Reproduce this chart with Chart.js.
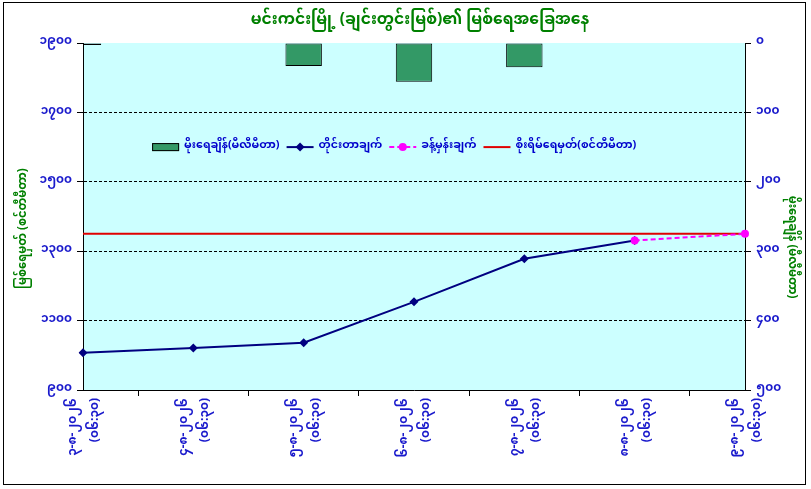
<!DOCTYPE html>
<html><head><meta charset="utf-8">
<script src="https://cdn.jsdelivr.net/npm/chart.js@4.4.1/dist/chart.umd.min.js"></script>
<style>html,body{margin:0;padding:0;background:#fff}#wrap{width:811px;height:489px;position:relative}</style>
</head><body><div id="wrap"><canvas id="c" width="811" height="489"></canvas></div>
<script>
const FONT = "'Noto Sans Myanmar','Padauk','Myanmar Text','Noto Sans','DejaVu Sans',sans-serif";
const titleText = 'မင်းကင်းမြို့ (ချင်းတွင်းမြစ်)၏ မြစ်ရေအခြေအနေ';
const leftAxisTitle = 'မြစ်ရေမှတ် (စင်တီမီတာ)';
const rightAxisTitle = 'မိုးရေချိန် (မီလီမီတာ)';
const dates = ['၃-၈-၂၀၂၆','၄-၈-၂၀၂၆','၅-၈-၂၀၂၆','၆-၈-၂၀၂၆','၇-၈-၂၀၂၆','၈-၈-၂၀၂၆','၉-၈-၂၀၂၆'];
const times = ['(၀၆:၃၀)','(၀၆:၃၀)','(၀၆:၃၀)','(၀၆:၃၀)','(၀၆:၃၀)','(၀၆:၃၀)','(၀၆:၃၀)'];
const rainfall = [3, 0, 33, 56, 35, 0, 0];
const observed = [1007, 1021, 1036, 1154, 1278, 1331, null];
const forecast = [null, null, null, null, null, 1331, 1350];
const dangerLevel = [1350, 1350, 1350, 1350, 1350, 1350, 1350];
const seriesNames = ['မိုးရေချိန်(မီလီမီတာ)','တိုင်းတာချက်','ခန့်မှန်းချက်','စိုးရိမ်ရေမှတ်(စင်တီမီတာ)'];
const leftTickValues = [900, 1100, 1300, 1500, 1700, 1900];
const leftTickLabels = ['၉၀၀','၁၁၀၀','၁၃၀၀','၁၅၀၀','၁၇၀၀','၁၉၀၀'];
const rightTickValues = [0, 100, 200, 300, 400, 500];
const rightTickLabels = ['၀','၁၀၀','၂၀၀','၃၀၀','၄၀၀','၅၀၀'];

const labels = dates.map((d, i) => [d, times[i]]);
const TICK = '#1a1acc';
const GREEN = '#008000';

function rotText(ctx, text, x, y, ang) {
  ctx.save();
  ctx.translate(x, y);
  ctx.rotate(ang);
  ctx.textAlign = 'center';
  ctx.textBaseline = 'middle';
  ctx.fillText(text, 0, 0);
  ctx.restore();
}

const decor = {
  id: 'decor',
  beforeDraw(chart) {
    const {ctx, chartArea: a} = chart;
    ctx.save();
    ctx.fillStyle = '#ccffff';
    ctx.fillRect(a.left, a.top, a.right - a.left, a.bottom - a.top);
    ctx.restore();
  },
  afterDraw(chart) {
    const {ctx, chartArea: a} = chart;
    const h = a.bottom - a.top;
    ctx.save();
    ctx.strokeStyle = '#000';
    ctx.lineWidth = 1;
    ctx.strokeRect(3.5, 2.5, 802, 482);
    // title
    ctx.fillStyle = GREEN;
    ctx.font = 'bold 15.5px ' + FONT;
    rotText(ctx, titleText, (a.left + a.right) / 2 + 6, 22, 0);
    // axis titles
    ctx.font = 'bold 11.5px ' + FONT;
    rotText(ctx, leftAxisTitle, 25, a.top + h * 0.535, -Math.PI / 2);
    rotText(ctx, rightAxisTitle, 790, a.top + h * 0.588, Math.PI / 2);
    // legend
    const ds = chart.data.datasets;
    ctx.font = 'bold 11px ' + FONT;
    ctx.textBaseline = 'middle';
    ctx.textAlign = 'left';
    const sym = 27, gapS = 5, gapT = 7;
    let total = 0;
    ds.forEach(d => { total += sym + gapS + ctx.measureText(d.label).width + gapT; });
    total -= gapT;
    let x = a.left + (a.right - a.left) * 0.47 - total / 2;
    const y = a.top + h * 0.3;
    ds.forEach((d, i) => {
      if (d.type === 'bar') {
        ctx.fillStyle = d.backgroundColor;
        ctx.fillRect(x, y - 4, sym, 8);
        ctx.strokeStyle = '#000';
        ctx.lineWidth = 1;
        ctx.strokeRect(x + 0.5, y - 3.5, sym - 1, 7);
      } else {
        ctx.strokeStyle = d.borderColor;
        ctx.lineWidth = d.borderWidth;
        ctx.setLineDash(d.borderDash || []);
        ctx.beginPath(); ctx.moveTo(x, y); ctx.lineTo(x + sym, y); ctx.stroke();
        ctx.setLineDash([]);
        if (d.pointRadius > 0) {
          ctx.fillStyle = d.pointBackgroundColor;
          const cx = x + sym / 2, r = d.pointRadius;
          ctx.beginPath();
          if (d.pointStyle === 'rectRot') {
            ctx.moveTo(cx, y - r); ctx.lineTo(cx + r, y); ctx.lineTo(cx, y + r); ctx.lineTo(cx - r, y);
          } else {
            ctx.arc(cx, y, r, 0, Math.PI * 2);
          }
          ctx.closePath(); ctx.fill();
        }
      }
      x += sym + gapS;
      ctx.fillStyle = '#0000cc';
      ctx.fillText(d.label, x, y);
      x += ctx.measureText(d.label).width + gapT;
    });
    ctx.restore();
  }
};

new Chart(document.getElementById('c'), {
  data: {
    labels,
    datasets: [
      {type: 'bar', label: seriesNames[0], data: rainfall, yAxisID: 'y1', backgroundColor: '#339966',
       borderColor: '#000', borderWidth: 1, borderSkipped: false, barPercentage: 0.33, categoryPercentage: 1, clip: 0, order: 4},
      {type: 'line', label: seriesNames[1], data: observed, yAxisID: 'y', borderColor: '#000080', borderWidth: 2,
       pointStyle: 'rectRot', pointRadius: 4.5, pointBackgroundColor: '#000080', pointBorderColor: '#000080', pointBorderWidth: 0, tension: 0, order: 2},
      {type: 'line', label: seriesNames[2], data: forecast, yAxisID: 'y', borderColor: '#ff00ff', borderWidth: 2, borderDash: [5, 3],
       pointStyle: 'circle', pointRadius: 4, pointBackgroundColor: '#ff00ff', pointBorderColor: '#ff00ff', pointBorderWidth: 0, tension: 0, order: 1},
      {type: 'line', label: seriesNames[3], data: dangerLevel, yAxisID: 'y', borderColor: '#e00000', borderWidth: 2,
       pointRadius: 0, tension: 0, order: 3}
    ]
  },
  options: {
    responsive: false,
    animation: false,
    devicePixelRatio: 1,
    layout: {padding: {left: 0, right: 0, top: 43, bottom: 0}},
    plugins: {
      legend: {display: false},
      tooltip: {enabled: false},
      title: {display: false}
    },
    scales: {
      x: {
        type: 'category', offset: false,
        grid: {drawOnChartArea: false, tickLength: 6, color: '#000', tickColor: '#000'},
        border: {color: '#000', width: 1},
        ticks: {color: TICK, font: {family: FONT, size: 12, weight: 'bold', lineHeight: 1.8}, maxRotation: 90, minRotation: 90,
          autoSkip: false, padding: 2, labelOffset: -8},
        afterFit: s => { s.height = 99; }
      },
      y: {
        position: 'left', min: 900, max: 1900,
        afterBuildTicks: s => { s.ticks = leftTickValues.map(v => ({value: v})); },
        ticks: {color: TICK, font: {family: FONT, size: 12, weight: 'bold'}, padding: 5,
          callback: v => leftTickLabels[leftTickValues.indexOf(v)] ?? ''},
        grid: {color: c => (c.tick && (c.tick.value === 900 || c.tick.value === 1900)) ? 'rgba(0,0,0,0)' : '#000',
          tickColor: '#000', tickLength: 6, lineWidth: 1},
        border: {color: '#000', width: 1, dash: [3, 2]},
        afterFit: s => { s.width = 83; }
      },
      y1: {
        position: 'right', min: 0, max: 500, reverse: true,
        afterBuildTicks: s => { s.ticks = rightTickValues.map(v => ({value: v})); },
        ticks: {color: TICK, font: {family: FONT, size: 12, weight: 'bold'}, padding: 5,
          callback: v => rightTickLabels[rightTickValues.indexOf(v)] ?? ''},
        grid: {drawOnChartArea: false, tickColor: '#000', tickLength: 6, color: '#000'},
        border: {color: '#000', width: 1},
        afterFit: s => { s.width = 66; }
      }
    }
  },
  plugins: [decor]
});
</script>
</body></html>
